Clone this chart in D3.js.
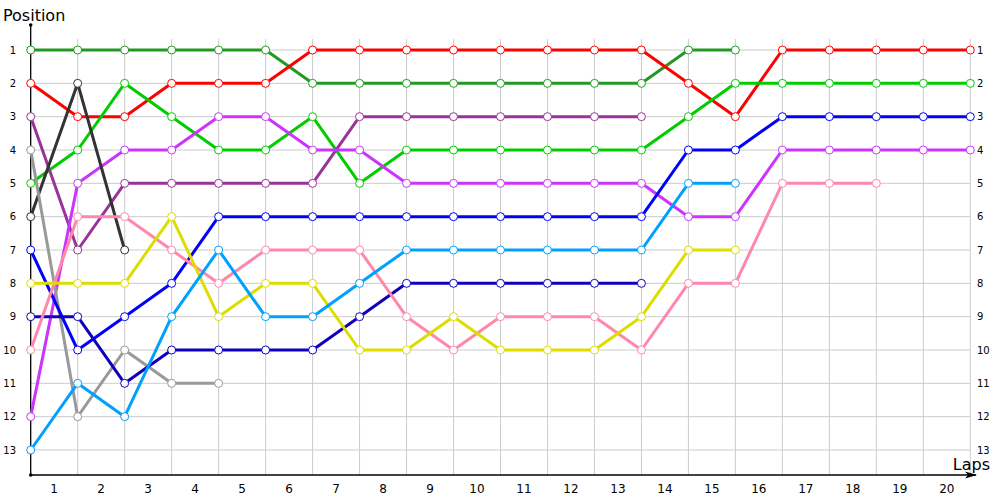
<!DOCTYPE html>
<html>
<head>
<meta charset="utf-8">
<script src="https://cdn.jsdelivr.net/npm/d3@7"></script>
<style>
  body { margin: 0; background: #fff; }
  svg text { font-family: "DejaVu Sans", sans-serif; fill: #000; }
</style>
</head>
<body>
<div id="chart"></div>
<script>
const width = 1000;
const height = 500;

// lap index 0..20 (0 = grid)
const lapLabels = d3.range(1, 21);
const positions = d3.range(1, 14);

const seriesNames = ["darkgreen", "red", "green", "purple", "violet", "black", "gray", "blue", "navy", "pink", "yellow", "lightblue"];
const seriesColors = ["#229922", "#ff0000", "#00cc00", "#993399", "#cc33ff", "#333333", "#999999", "#0000ff", "#1100bb", "#ff88aa", "#dddd00", "#00a0ff"];

const darkgreen = [1, 1, 1, 1, 1, 1, 2, 2, 2, 2, 2, 2, 2, 2, 1, 1];
const red = [2, 3, 3, 2, 2, 2, 1, 1, 1, 1, 1, 1, 1, 1, 2, 3, 1, 1, 1, 1, 1];
const green = [5, 4, 2, 3, 4, 4, 3, 5, 4, 4, 4, 4, 4, 4, 3, 2, 2, 2, 2, 2, 2];
const purple = [3, 7, 5, 5, 5, 5, 5, 3, 3, 3, 3, 3, 3, 3];
const violet = [12, 5, 4, 4, 3, 3, 4, 4, 5, 5, 5, 5, 5, 5, 6, 6, 4, 4, 4, 4, 4];
const black = [6, 2, 7];
const gray = [4, 12, 10, 11, 11];
const blue = [7, 10, 9, 8, 6, 6, 6, 6, 6, 6, 6, 6, 6, 6, 4, 4, 3, 3, 3, 3, 3];
const navy = [9, 9, 11, 10, 10, 10, 10, 9, 8, 8, 8, 8, 8, 8];
const pink = [10, 6, 6, 7, 8, 7, 7, 7, 9, 10, 9, 9, 9, 10, 8, 8, 5, 5, 5];
const yellow = [8, 8, 8, 6, 9, 8, 8, 10, 10, 9, 10, 10, 10, 9, 7, 7];
const lightblue = [13, 11, 12, 9, 7, 9, 9, 8, 7, 7, 7, 7, 7, 7, 5, 5];

const seriesData = [darkgreen, red, green, purple, violet, black, gray, blue, navy, pink, yellow, lightblue];

const x = d3.scaleLinear().domain([0, 20]).range([30.7, 970.3]);
const y = d3.scaleLinear().domain([1, 13]).range([50, 450]);
const axisY = y(13.75);

const svg = d3.select("#chart")
  .append("svg")
  .attr("width", width)
  .attr("height", height);

// grid
const grid = svg.append("g").attr("stroke", "#cccccc").attr("stroke-width", 1);
grid.selectAll("line.v")
  .data(d3.range(1, 21))
  .enter()
  .append("line")
  .attr("x1", d => x(d)).attr("x2", d => x(d))
  .attr("y1", y(0.67)).attr("y2", axisY);
grid.selectAll("line.h")
  .data(positions)
  .enter()
  .append("line")
  .attr("x1", x(0)).attr("x2", x(20))
  .attr("y1", d => y(d)).attr("y2", d => y(d));

// axes
svg.append("line")
  .attr("x1", x(0)).attr("x2", x(0))
  .attr("y1", 25).attr("y2", axisY)
  .attr("stroke", "#000").attr("stroke-width", 1.3);
svg.append("circle").attr("cx", x(0)).attr("cy", 25).attr("r", 1.8).attr("fill", "#000");
svg.append("circle").attr("cx", x(0)).attr("cy", axisY).attr("r", 1.8).attr("fill", "#000");
svg.append("line")
  .attr("x1", x(0)).attr("x2", 976)
  .attr("y1", axisY).attr("y2", axisY)
  .attr("stroke", "#000").attr("stroke-width", 1.3);
svg.append("path")
  .attr("d", `M977,${axisY} L965,${axisY - 3.5} L968,${axisY} L965,${axisY + 3.5} Z`)
  .attr("fill", "#000");

// tick labels
svg.append("g").selectAll("text")
  .data(positions)
  .enter()
  .append("text")
  .attr("x", 16).attr("y", d => y(d) + 3.5)
  .attr("text-anchor", "end")
  .attr("font-size", 10)
  .text(d => d);
svg.append("g").selectAll("text")
  .data(positions)
  .enter()
  .append("text")
  .attr("x", 977).attr("y", d => y(d) + 3.5)
  .attr("font-size", 10)
  .text(d => d);
svg.append("g").selectAll("text")
  .data(lapLabels)
  .enter()
  .append("text")
  .attr("x", d => x(d - 0.5)).attr("y", 493)
  .attr("text-anchor", "middle")
  .attr("font-size", 12)
  .text(d => d);

svg.append("text").attr("x", 3).attr("y", 21).attr("font-size", 16).text("Position");
svg.append("text").attr("x", 990).attr("y", 470).attr("text-anchor", "end").attr("font-size", 16).text("Laps");

// series lines
const line = d3.line().x((d, i) => x(i)).y(d => y(d));

seriesData.forEach((vals, k) => {
  const g = svg.append("g").attr("class", seriesNames[k]);
  g.append("path")
    .datum(vals)
    .attr("d", line)
    .attr("fill", "none")
    .attr("stroke", seriesColors[k])
    .attr("stroke-width", 3)
    .attr("stroke-linejoin", "round");
});
seriesData.forEach((vals, k) => {
  svg.append("g").selectAll("circle")
    .data(vals)
    .enter()
    .append("circle")
    .attr("cx", (d, i) => x(i))
    .attr("cy", d => y(d))
    .attr("r", 4)
    .attr("fill", "#fff")
    .attr("stroke", seriesColors[k])
    .attr("stroke-width", 1);
});
</script>
</body>
</html>
